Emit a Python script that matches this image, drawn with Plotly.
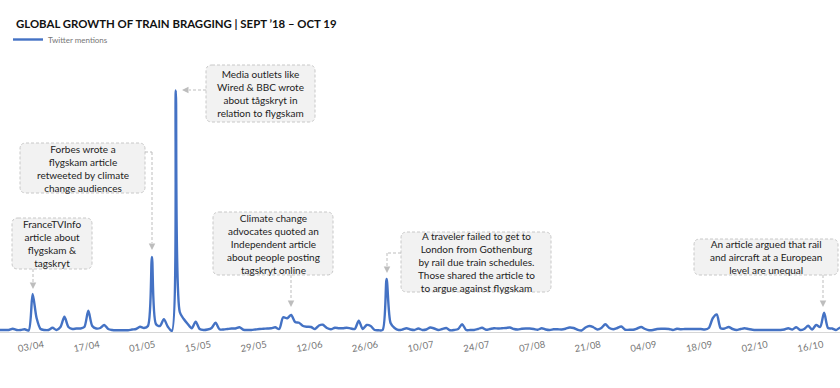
import pandas as pd
import plotly.graph_objects as go

# ---------------- data ----------------
START_DATE = "2019-03-25"
MENTIONS = [
    8, 8, 8, 8, 13, 8, 8, 11, 6, 152,
    56, 12, 8, 8, 17, 8, 20, 61, 20, 12,
    14, 14, 20, 85, 24, 14, 16, 28, 12, 8,
    7, 7, 7, 7, 10, 12, 21, 16, 24, 300,
    32, 24, 51, 21, 4, 966, 80, 52, 32, 15,
    41, 12, 8, 10, 16, 37, 11, 10, 12, 14,
    14, 19, 9, 8, 8, 10, 12, 13, 14, 15,
    19, 12, 59, 55, 68, 40, 37, 24, 21, 20,
    12, 26, 29, 16, 11, 17, 15, 15, 17, 14,
    12, 45, 12, 28, 24, 8, 7, 8, 212, 36,
    16, 8, 10, 15, 10, 8, 14, 8, 10, 18,
    14, 8, 12, 16, 7, 8, 12, 31, 8, 8,
    8, 12, 17, 9, 12, 15, 14, 15, 16, 18,
    12, 10, 13, 14, 14, 12, 9, 15, 10, 8,
    11, 11, 10, 13, 18, 16, 9, 6, 18, 24,
    19, 10, 16, 31, 16, 11, 16, 22, 9, 9,
    9, 14, 20, 12, 7, 8, 12, 13, 13, 12,
    8, 13, 11, 12, 12, 12, 12, 12, 10, 16,
    55, 70, 15, 14, 20, 12, 8, 12, 15, 12,
    9, 8, 8, 8, 8, 8, 8, 8, 10, 15,
    10, 19, 8, 12, 25, 10, 28, 20, 77, 16,
    14, 8, 17, 12,
]
DATES = pd.date_range(START_DATE, periods=len(MENTIONS), freq="D")

TICK_DATES = ["2019-04-03", "2019-04-17", "2019-05-01", "2019-05-15", "2019-05-29",
              "2019-06-12", "2019-06-26", "2019-07-10", "2019-07-24", "2019-08-07",
              "2019-08-21", "2019-09-04", "2019-09-18", "2019-10-02", "2019-10-16"]
TICK_LABELS = ["03/04", "17/04", "01/05", "15/05", "29/05", "12/06", "26/06", "10/07",
               "24/07", "07/08", "21/08", "04/09", "18/09", "02/10", "16/10"]

TITLE = "GLOBAL GROWTH OF TRAIN BRAGGING | SEPT \u201918 \u2013 OCT 19"
SERIES_NAME = "Twitter mentions"

NOTES = [
    "FranceTVInfo<br>article about<br>flygskam &<br>tagskryt",
    "Forbes wrote a<br>flygskam article<br>retweeted by climate<br>change audiences",
    "Media outlets like<br>Wired & BBC wrote<br>about tågskryt in<br>relation to flygskam",
    "Climate change<br>advocates quoted an<br>Independent article<br>about people posting<br>tagskryt online",
    "A traveler failed to get to<br>London from Gothenburg<br>by rail due train schedules.<br>Those shared the article to<br>to argue against flygskam",
    "An article argued that rail<br>and aircraft at a European<br>level are unequal",
]

# ---------------- layout geometry (pixels) ----------------
W, H = 840, 388
MT, MB = 72, 56
PLOT_H = H - MT - MB
FONT = "Lato"

def px(xp):
    return xp / W

def py(yp):
    return (H - MB - yp) / PLOT_H

# boxes: (x0, y0, x1, y1) in pixels
BOXES = [
    (12, 218, 92, 269),
    (20, 143, 145, 193),
    (206, 65, 315, 122),
    (213, 212, 333, 275),
    (401, 232, 551, 292),
    (694, 239, 838, 275),
]
# connector polylines (pixels), last point is the arrow tip
CONNECTORS = [
    [(33, 269), (33, 289)],
    [(145, 152), (152, 152), (152, 250)],
    [(206, 90), (182, 90)],
    [(291, 275), (291, 307)],
    [(401, 253), (387, 253), (387, 273)],
    [(823, 275), (823, 307)],
]

fig = go.Figure()
fig.add_trace(go.Scatter(
    x=DATES, y=MENTIONS, mode="lines", name=SERIES_NAME,
    line=dict(color="#4472c4", width=2.4, shape="spline", smoothing=0.8),
    hoverinfo="skip",
))

shapes = []
annotations = []
R = 6
for (x0, y0, x1, y1), note in zip(BOXES, NOTES):
    rx, ry = R / W, R / PLOT_H
    X0, X1 = px(x0), px(x1)
    Yt, Yb = py(y0), py(y1)
    path = (f"M {X0+rx},{Yt} L {X1-rx},{Yt} Q {X1},{Yt} {X1},{Yt-ry} "
            f"L {X1},{Yb+ry} Q {X1},{Yb} {X1-rx},{Yb} "
            f"L {X0+rx},{Yb} Q {X0},{Yb} {X0},{Yb+ry} "
            f"L {X0},{Yt-ry} Q {X0},{Yt} {X0+rx},{Yt} Z")
    shapes.append(dict(type="path", path=path, xref="paper", yref="paper",
                       fillcolor="#f2f2f2", line=dict(color="#c8c8c8", width=1, dash="3px,2px"),
                       layer="above"))
    annotations.append(dict(text=note, x=px((x0 + x1) / 2), y=py((y0 + y1) / 2),
                            xref="paper", yref="paper", xanchor="center", yanchor="middle",
                            showarrow=False, align="center",
                            font=dict(family=FONT, size=10, color="#222")))

HEAD = 7
for pts in CONNECTORS:
    tip = pts[-1]
    prev = pts[-2]
    dx = tip[0] - prev[0]
    dy = tip[1] - prev[1]
    ux = (dx > 0) - (dx < 0)
    uy = (dy > 0) - (dy < 0)
    end = (tip[0] - ux * HEAD, tip[1] - uy * HEAD)
    line_pts = pts[:-1] + [end]
    for a, b in zip(line_pts[:-1], line_pts[1:]):
        shapes.append(dict(type="line", xref="paper", yref="paper",
                           x0=px(a[0]), y0=py(a[1]), x1=px(b[0]), y1=py(b[1]),
                           line=dict(color="#bdbdbd", width=1, dash="3px,2px"), layer="above"))
    annotations.append(dict(text="", x=px(tip[0]), y=py(tip[1]), xref="paper", yref="paper",
                            showarrow=True, ax=-ux * HEAD, ay=-uy * HEAD,
                            arrowhead=2, arrowsize=1.3, arrowwidth=1, arrowcolor="#bdbdbd",
                            standoff=0))

fig.update_layout(
    width=W, height=H,
    margin=dict(l=0, r=0, t=MT, b=MB, pad=0, autoexpand=False),
    paper_bgcolor="white", plot_bgcolor="white",
    title=dict(text=TITLE, x=16 / W, xanchor="left", xref="container",
               y=1 - 24 / H, yanchor="middle", yref="container", pad=dict(l=0, r=0, t=0, b=0),
               font=dict(family=FONT, size=11.4, color="#111", weight="bold")),
    showlegend=True,
    legend=dict(x=8 / W, y=1 - 25 / H, xref="container", yref="container",
                xanchor="left", yanchor="top", orientation="h",
                font=dict(family=FONT, size=8, color="#777"), bgcolor="rgba(0,0,0,0)"),
    xaxis=dict(range=["2019-03-25 19:12", "2019-10-23 00:00"], automargin=False,
               showline=True, linecolor="#d6d6d6", linewidth=1,
               showgrid=False, zeroline=False, ticks="",
               tickmode="array", tickvals=TICK_DATES, ticktext=TICK_LABELS,
               tickangle=-10, ticklabelshift=11, ticklabelstandoff=3,
               tickfont=dict(family=FONT, size=9.5, color="#777")),
    yaxis=dict(range=[0, 1040], visible=False, fixedrange=True, automargin=False),
    shapes=shapes,
    annotations=annotations,
)

fig.write_html("out.html", config={"displayModeBar": False},
               post_script="document.body.style.margin='0px';")
